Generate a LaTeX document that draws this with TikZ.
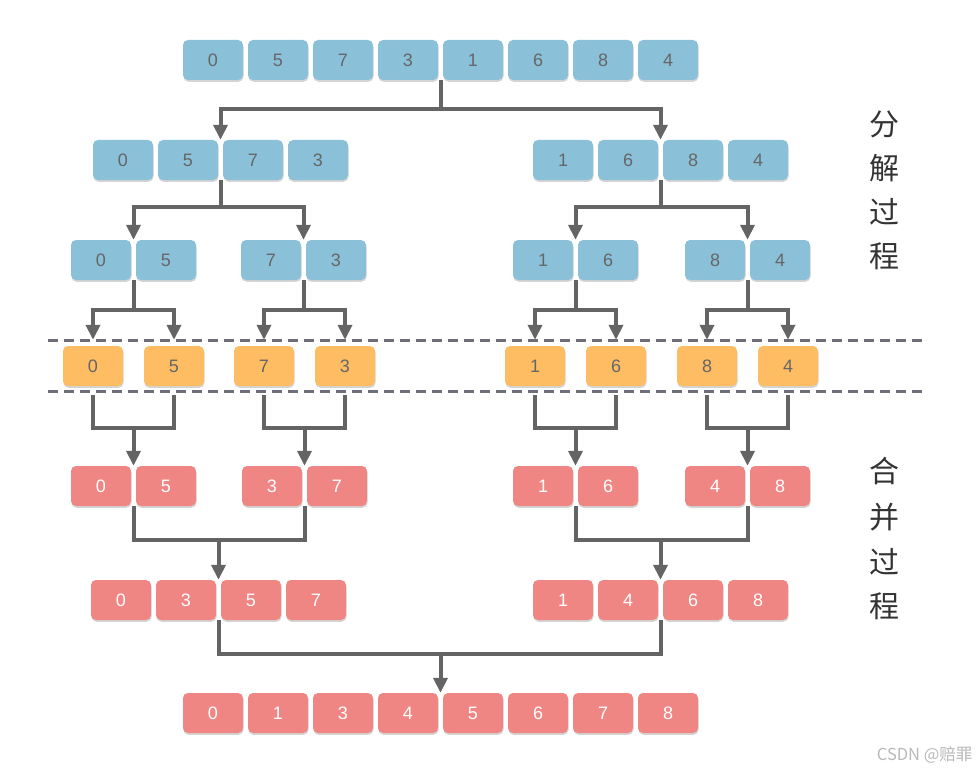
\documentclass[tikz,border=0pt]{standalone}
\usepackage{fontspec}
\setmainfont{Liberation Sans}
\newfontfamily\cjk{Noto Sans CJK SC}
\usetikzlibrary{arrows.meta,shadows,calc}
\definecolor{bluebox}{HTML}{8AC1D8}
\definecolor{orangebox}{HTML}{FEBD63}
\definecolor{redbox}{HTML}{F08684}
\definecolor{txtgray}{HTML}{666666}
\definecolor{lngray}{HTML}{646464}
\definecolor{dashgray}{HTML}{6E6E78}
\begin{document}
\begin{tikzpicture}[x=1pt,y=-1pt,
  cell/.style={minimum width=60pt,minimum height=40pt,rounded corners=5pt,inner sep=0pt,
    font=\fontsize{18}{18}\selectfont,
    drop shadow={shadow xshift=0.5pt,shadow yshift=-1.8pt,opacity=0.28,fill=black!60}},
  bcell/.style={cell,fill=bluebox,text=txtgray},
  ocell/.style={cell,fill=orangebox,text=txtgray},
  rcell/.style={cell,fill=redbox,text=white},
  ln/.style={draw=lngray,line width=4pt},
  arr/.style={ln,-{Triangle[width=14pt,length=15pt]}},
  dashline/.style={draw=dashgray,line width=3pt,dash pattern=on 10pt off 6pt},
  side/.style={font=\cjk\fontsize{30}{30}\selectfont,text=black!80}
]
\useasboundingbox (0,0) rectangle (980,773);

% rows
\foreach \v [count=\i] in {0,5,7,3,1,6,8,4}
  \node[bcell] (t\i) at ({148+65*\i},60) {\v};
\foreach \v [count=\i] in {0,5,7,3}
  \node[bcell] (a\i) at ({58+65*\i},160) {\v};
\foreach \v [count=\i] in {1,6,8,4}
  \node[bcell] (b\i) at ({498+65*\i},160) {\v};
\foreach \v/\x [count=\i] in {0/101,5/166,7/271,3/336,1/543,6/608,8/715,4/780}
  \node[bcell] (c\i) at (\x,260) {\v};

\draw[dashline] (48,340) -- (922,340);
\draw[dashline] (48,391) -- (922,391);

\foreach \v/\x [count=\i] in {0/93,5/174,7/264,3/345,1/535,6/616,8/707,4/788}
  \node[ocell] (o\i) at (\x,366) {\v};
\foreach \v/\x [count=\i] in {0/101,5/166,3/272,7/337,1/543,6/608,4/715,8/780}
  \node[rcell] (r\i) at (\x,486) {\v};
\foreach \v [count=\i] in {0,3,5,7}
  \node[rcell] (s\i) at ({56+65*\i},600) {\v};
\foreach \v [count=\i] in {1,4,6,8}
  \node[rcell] (p\i) at ({498+65*\i},600) {\v};
\foreach \v [count=\i] in {0,1,3,4,5,6,7,8}
  \node[rcell] (u\i) at ({148+65*\i},713) {\v};

% split: top -> halves
\coordinate (j0) at ($(t4.south east)!.5!(t5.south west)$);
\draw[arr] (j0) -- ++(0,29) -| ($(a2.north east)!.5!(a3.north west)$);
\draw[arr] (j0) -- ++(0,29) -| ($(b2.north east)!.5!(b3.north west)$);
% halves -> quarters
\coordinate (ja) at ($(a2.south east)!.5!(a3.south west)$);
\draw[arr] (ja) -- ++(0,27) -| ($(c1.north east)!.5!(c2.north west)$);
\draw[arr] (ja) -- ++(0,27) -| ($(c3.north east)!.5!(c4.north west)$);
\coordinate (jb) at ($(b2.south east)!.5!(b3.south west)$);
\draw[arr] (jb) -- ++(0,27) -| ($(c5.north east)!.5!(c6.north west)$);
\draw[arr] (jb) -- ++(0,27) -| ($(c7.north east)!.5!(c8.north west)$);
% quarters -> singles
\foreach \k/\l/\m in {1/1/2,3/3/4,5/5/6,7/7/8}{
  \pgfmathtruncatemacro{\n}{\k+1}
  \coordinate (jc\k) at ($(c\k.south east)!.5!(c\n.south west)$);
  \draw[arr,shorten >=6pt] (jc\k) -- ++(0,30) -| (o\l.north);
  \draw[arr,shorten >=6pt] (jc\k) -- ++(0,30) -| (o\m.north);
}
% merge: singles -> pairs
\foreach \k/\a/\b in {1/1/2,3/3/4,5/5/6,7/7/8}{
  \pgfmathtruncatemacro{\n}{\k+1}
  \draw[ln,shorten <=9pt,shorten >=9pt] (o\a.south) -- ++(0,42) coordinate (h\k) -| (o\b.south);
  \coordinate (tr\k) at ($(r\k.north east)!.5!(r\n.north west)$);
  \draw[arr] (tr\k |- h\k) -- (tr\k);
}
% pairs -> quads
\coordinate (jr1) at ($(r1.south east)!.5!(r2.south west)$);
\coordinate (jr3) at ($(r3.south east)!.5!(r4.south west)$);
\coordinate (ts) at ($(s2.north east)!.5!(s3.north west)$);
\draw[ln] (jr1) -- ++(0,34) coordinate (hs) -| (jr3);
\draw[arr] (ts |- hs) -- (ts);
\coordinate (jr5) at ($(r5.south east)!.5!(r6.south west)$);
\coordinate (jr7) at ($(r7.south east)!.5!(r8.south west)$);
\coordinate (tp) at ($(p2.north east)!.5!(p3.north west)$);
\draw[ln] (jr5) -- ++(0,34) coordinate (hp) -| (jr7);
\draw[arr] (tp |- hp) -- (tp);
% quads -> full
\coordinate (js) at ($(s2.south east)!.5!(s3.south west)$);
\coordinate (jp) at ($(p2.south east)!.5!(p3.south west)$);
\coordinate (tu) at ($(u4.north east)!.5!(u5.north west)$);
\draw[ln] (js) -- ++(0,34) coordinate (hu) -| (jp);
\draw[arr] (tu |- hu) -- (tu);

% side labels
\foreach \c/\y in {分/124,解/168,过/212,程/256,合/471,并/517,过/562,程/606}
  \node[side] at (884,\y) {\c};

\node[anchor=east,font=\cjk\fontsize{16.5}{16.5}\selectfont,text=black!28] (wm) at (976,755) {CSDN @赔罪};
\end{tikzpicture}
\end{document}
